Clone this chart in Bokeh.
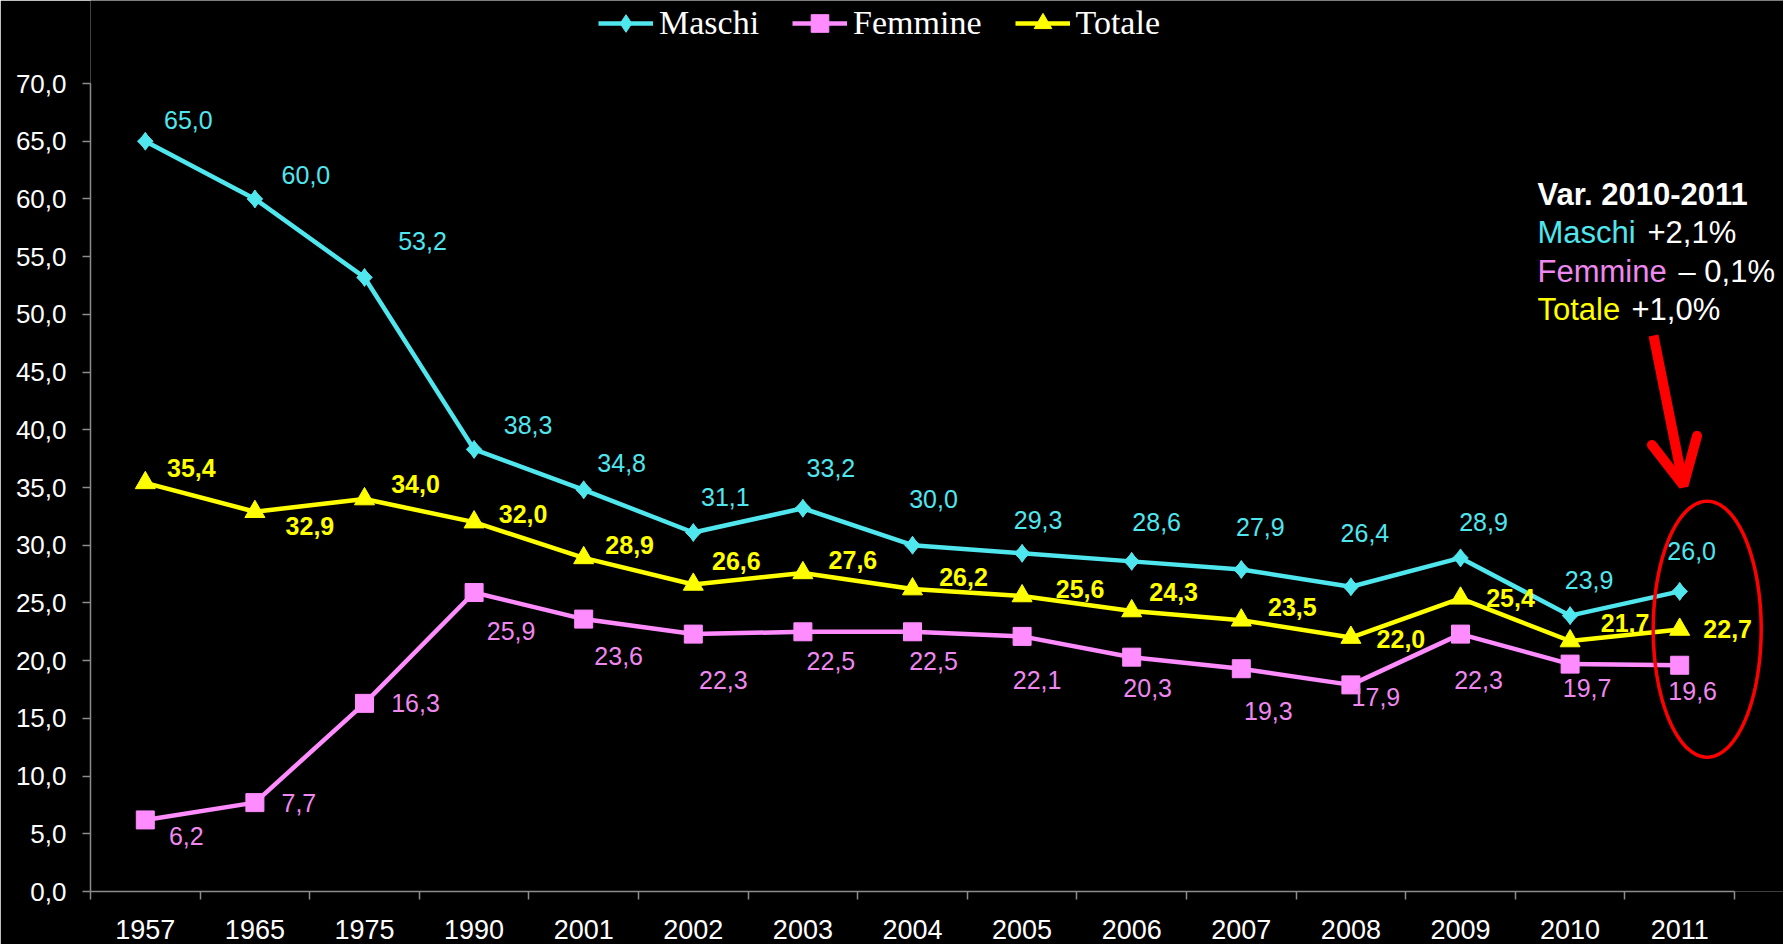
import math
from bokeh.plotting import figure
from bokeh.models import (Range1d, FixedTicker, CustomJSTickFormatter, Legend, LegendItem,
                          ColumnDataSource, Label, Arrow, OpenHead, PolyAnnotation)
from bokeh.core.properties import value
from bokeh.embed import file_html
from bokeh.resources import INLINE

# ---------------- data ----------------
years = ["1957", "1965", "1975", "1990", "2001", "2002", "2003", "2004",
         "2005", "2006", "2007", "2008", "2009", "2010", "2011"]
maschi = [65.0, 60.0, 53.2, 38.3, 34.8, 31.1, 33.2, 30.0, 29.3, 28.6, 27.9, 26.4, 28.9, 23.9, 26.0]
femmine = [6.2, 7.7, 16.3, 25.9, 23.6, 22.3, 22.5, 22.5, 22.1, 20.3, 19.3, 17.9, 22.3, 19.7, 19.6]
totale = [35.4, 32.9, 34.0, 32.0, 28.9, 26.6, 27.6, 26.2, 25.6, 24.3, 23.5, 22.0, 25.4, 21.7, 22.7]
y_ticks = [0, 5, 10, 15, 20, 25, 30, 35, 40, 45, 50, 55, 60, 65, 70]
Y_MAX = 70

# label placement offsets (pixels, screen; dy positive = down)
m_dx = [43, 51, 58, 54, 38, 32, 28, 21, 16, 25, 19, 14, 23, 19, 12]
m_dy = [-21, -24, -36, -24, -27, -36, -40, -46, -33, -39, -42, -54, -36, -36, -40]
f_dx = [41, 44, 51, 37, 35, 30, 28, 21, 15, 16, 27, 25, 18, 17, 13]
f_dy = [16, 0, 0, 38, 37, 46, 29, 29, 44, 31, 42, 12, 46, 24, 26]
t_dx = [46, 55, 51, 49, 46, 43, 50, 51, 58, 42, 51, 50, 50, 55, 48]
t_dy = [-15, 14, -15, -8, -13, -23, -13, -12, -7, -19, -13, 1, 0, -18, 0]

CYAN = "#50E6EE"
PINK = "#FF8CFF"
PINK_TXT = "#EE88EE"
YELLOW = "#FFFF00"
AXIS = "#8C8C8C"
FONT = "Liberation Sans"


def fmt(v):
    return f"{v:.1f}".replace(".", ",")


n = len(years)
xs = [i + 0.5 for i in range(n)]

src = ColumnDataSource(dict(
    x=xs, m=maschi, f=femmine, t=totale,
    ml=[fmt(v) for v in maschi], fl=[fmt(v) for v in femmine], tl=[fmt(v) for v in totale],
    mdx=m_dx, mdy=m_dy, fdx=f_dx, fdy=f_dy, tdx=t_dx, tdy=t_dy,
))

# layout (pixels)
W, H = 1783, 944
FL, FB = 90, 53          # left / bottom borders (axes)
CAT_PX = 109.6           # width of one category
Y_PX = 808 / Y_MAX       # pixels per y unit
frame_w = W - FL
frame_h = H - FB

p = figure(width=W, height=H,
           x_range=Range1d(0, frame_w / CAT_PX), y_range=Range1d(0, frame_h / Y_PX),
           output_backend="svg", toolbar_location=None,
           background_fill_color="black", border_fill_color="black",
           min_border_left=FL, min_border_right=0, min_border_top=0, min_border_bottom=FB)
p.outline_line_color = None
p.xgrid.visible = False
p.ygrid.visible = False


def dxp(px):
    return (px - FL) / CAT_PX


def dyp(py):
    return (frame_h - py) / Y_PX


# y axis
ya = p.yaxis[0]
ya.bounds = (0, Y_MAX)
ya.ticker = FixedTicker(ticks=y_ticks)
ya.formatter = CustomJSTickFormatter(code="return tick.toFixed(1).replace('.', ',');")
ya.major_tick_out = 8
ya.major_tick_in = 0
ya.minor_tick_out = 0
ya.minor_tick_in = 0
ya.axis_line_color = AXIS
ya.axis_line_width = 1.5
ya.major_tick_line_color = AXIS
ya.major_tick_line_width = 1.5
ya.major_label_text_color = "white"
ya.major_label_text_font = FONT
ya.major_label_text_font_size = "26px"
ya.major_label_standoff = 16

# x axis
xa = p.xaxis[0]
xa.bounds = (0, n)
xa.ticker = FixedTicker(ticks=xs, minor_ticks=list(range(n + 1)))
xa.major_label_overrides = {x: y for x, y in zip(xs, years)}
xa.major_tick_out = 0
xa.major_tick_in = 0
xa.minor_tick_out = 8
xa.minor_tick_in = 0
xa.axis_line_color = AXIS
xa.axis_line_width = 1.5
xa.minor_tick_line_color = AXIS
xa.minor_tick_line_width = 1.5
xa.major_label_text_color = "white"
xa.major_label_text_font = FONT
xa.major_label_text_font_size = "27px"
xa.major_label_standoff = 20

# series
lw = 4.5
m_line = p.line("x", "m", source=src, line_color=CYAN, line_width=lw)
m_mark = p.scatter("x", "m", source=src, marker="diamond", size=18,
                   fill_color=CYAN, line_color=CYAN)
p.scatter("x", "m", source=src, marker="square", angle=math.pi / 4, size=11,
          fill_color=CYAN, line_color=CYAN)
f_line = p.line("x", "f", source=src, line_color=PINK, line_width=lw)
f_mark = p.scatter("x", "f", source=src, marker="square", size=18,
                   fill_color=PINK, line_color=PINK)
t_line = p.line("x", "t", source=src, line_color=YELLOW, line_width=lw)
t_mark = p.scatter("x", "t", source=src, marker="triangle", size=20,
                   fill_color=YELLOW, line_color=YELLOW)

# data labels
LBL = "25px"
p.text("x", "m", text="ml", source=src, x_offset="mdx", y_offset="mdy",
       text_color=CYAN, text_font=value(FONT), text_font_size=LBL,
       text_align="center", text_baseline="middle")
p.text("x", "f", text="fl", source=src, x_offset="fdx", y_offset="fdy",
       text_color=PINK_TXT, text_font=value(FONT), text_font_size=LBL,
       text_align="center", text_baseline="middle")
p.text("x", "t", text="tl", source=src, x_offset="tdx", y_offset="tdy",
       text_color=YELLOW, text_font=value(FONT), text_font_size=LBL, text_font_style="bold",
       text_align="center", text_baseline="middle")

# legend (inside the extended frame, above the plotted area)
LEG_H = 44
legend = Legend(items=[LegendItem(label="Maschi", renderers=[m_line, m_mark]),
                       LegendItem(label="Femmine", renderers=[f_line, f_mark]),
                       LegendItem(label="Totale", renderers=[t_line, t_mark])],
                orientation="horizontal",
                location=(598 - FL, frame_h - 23 - LEG_H // 2),
                background_fill_alpha=0, border_line_color=None,
                label_text_color="white", label_text_font="Liberation Serif",
                label_text_font_size="34px", glyph_width=55, glyph_height=LEG_H,
                label_standoff=6, spacing=33, padding=0, margin=0)
p.add_layout(legend, "center")

# annotation text block
ax0 = dxp(1537)
lines = [
    (194, [("Var. 2010-2011", "white", "bold", 0)]),
    (232, [("Maschi", CYAN, "normal", 0), ("+2,1%", "white", "normal", 110)]),
    (271, [("Femmine", PINK_TXT, "normal", 0), ("\u2013 0,1%", "white", "normal", 141)]),
    (309, [("Totale", YELLOW, "normal", 0), ("+1,0%", "white", "normal", 94)]),
]
for base, parts in lines:
    for txt, col, style, off in parts:
        p.add_layout(Label(x=ax0, y=dyp(base), x_offset=off, text=txt, text_color=col,
                           text_font=FONT, text_font_size="31px", text_font_style=style,
                           text_baseline="alphabetic", text_align="left"))

# red arrow
p.add_layout(Arrow(end=OpenHead(size=46, line_color="red", line_width=10, line_cap="round"),
                   x_start=dxp(1653), y_start=dyp(335), x_end=dxp(1683), y_end=dyp(485),
                   line_color="red", line_width=10))

# red ellipse
cx, cy, rx, ry = 1706.7, 628.7, 54, 128
ex = [dxp(cx + rx * math.cos(2 * math.pi * k / 120)) for k in range(121)]
ey = [dyp(cy + ry * math.sin(2 * math.pi * k / 120)) for k in range(121)]
p.add_layout(PolyAnnotation(xs=ex, ys=ey, line_color="red", line_alpha=1.0, line_width=3.5,
                            fill_alpha=0, fill_color=None))

open("out.html", "w").write(file_html(p, INLINE))
